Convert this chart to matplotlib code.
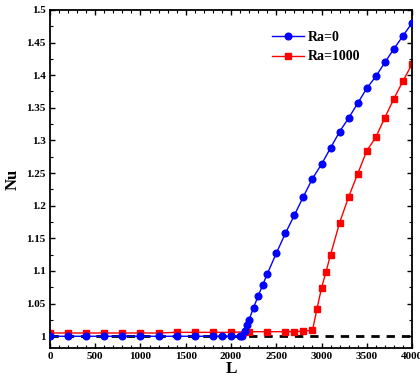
import matplotlib
matplotlib.use("Agg")
import matplotlib.pyplot as plt
from matplotlib.ticker import MultipleLocator

# Ra = 0 (blue circles)
L_ra0 = [0, 200, 400, 600, 800, 1000, 1200, 1400, 1600, 1800, 1900, 2000,
         2100, 2125, 2150, 2180, 2200, 2250, 2300, 2350, 2400, 2500, 2600,
         2700, 2800, 2900, 3000, 3100, 3200, 3300, 3400, 3500, 3600, 3700,
         3800, 3900, 4000]
nu_ra0 = [1.0, 1.0, 1.0, 1.0, 1.0, 1.0, 1.0, 1.0, 1.0, 1.0, 1.0, 1.0,
          1.0, 1.0, 1.008, 1.018, 1.0255, 1.044, 1.0617, 1.0785, 1.0953, 1.127,
          1.1575, 1.1855, 1.214, 1.2416, 1.2635, 1.2885, 1.3135, 1.3344, 1.357,
          1.380, 1.398, 1.4195, 1.4404, 1.4602, 1.480]

# Ra = 1000 (red squares)
L_ra1000 = [0, 200, 400, 600, 800, 1000, 1200, 1400, 1600, 1800, 2000, 2200,
            2400, 2600, 2700, 2800, 2900, 2950, 3000, 3050, 3100, 3200, 3300,
            3400, 3500, 3600, 3700, 3800, 3900, 4000]
nu_ra1000 = [1.005, 1.005, 1.005, 1.005, 1.005, 1.005, 1.005, 1.006, 1.006,
             1.006, 1.006, 1.007, 1.007, 1.007, 1.007, 1.008, 1.009, 1.042,
             1.074, 1.099, 1.125, 1.174, 1.2136, 1.249, 1.284, 1.305, 1.335,
             1.364, 1.391, 1.417]

plt.rcParams["font.family"] = ["Liberation Serif", "DejaVu Serif"]
plt.rcParams["font.weight"] = "bold"

fig = plt.figure(figsize=(4.2, 3.81), dpi=100)
ax = fig.add_axes([0.119, 0.0866, 0.862, 0.8874])

ax.axhline(1.0, color="black", linestyle=(0, (3, 2.5)), linewidth=2, zorder=1)
ax.plot(L_ra0, nu_ra0, "-o", color="#0000ff", markersize=4.8, linewidth=1,
        label="Ra=0", zorder=3)
ax.plot(L_ra1000, nu_ra1000, "-s", color="#ff0000", markersize=3.8, linewidth=1,
        label="Ra=1000", zorder=2)

ax.set_xlim(0, 4000)
ax.set_ylim(0.982, 1.5)
ax.xaxis.set_major_locator(MultipleLocator(500))
ax.xaxis.set_minor_locator(MultipleLocator(100))
ax.yaxis.set_minor_locator(MultipleLocator(0.025))
ax.set_yticks([1, 1.05, 1.1, 1.15, 1.2, 1.25, 1.3, 1.35, 1.4, 1.45, 1.5])
ax.set_yticklabels(["1", "1.05", "1.1", "1.15", "1.2", "1.25", "1.3",
                    "1.35", "1.4", "1.45", "1.5"])
ax.tick_params(which="both", direction="in", top=True, right=True,
               labelsize=8, pad=3)
ax.tick_params(which="major", length=3.5, width=1)
ax.tick_params(which="minor", length=2, width=0.8)
for s in ax.spines.values():
    s.set_linewidth(1.3)

ax.set_xlabel("L", fontsize=12.5, fontweight="bold", labelpad=0)
ax.set_ylabel("Nu", fontsize=12, fontweight="bold", labelpad=4)

ax.legend(loc="upper left", bbox_to_anchor=(0.578, 0.976), frameon=False,
          handlelength=2.3, handletextpad=0.3, labelspacing=0.5,
          prop={"weight": "bold", "size": 10})

fig.savefig("out.png", dpi=100)
